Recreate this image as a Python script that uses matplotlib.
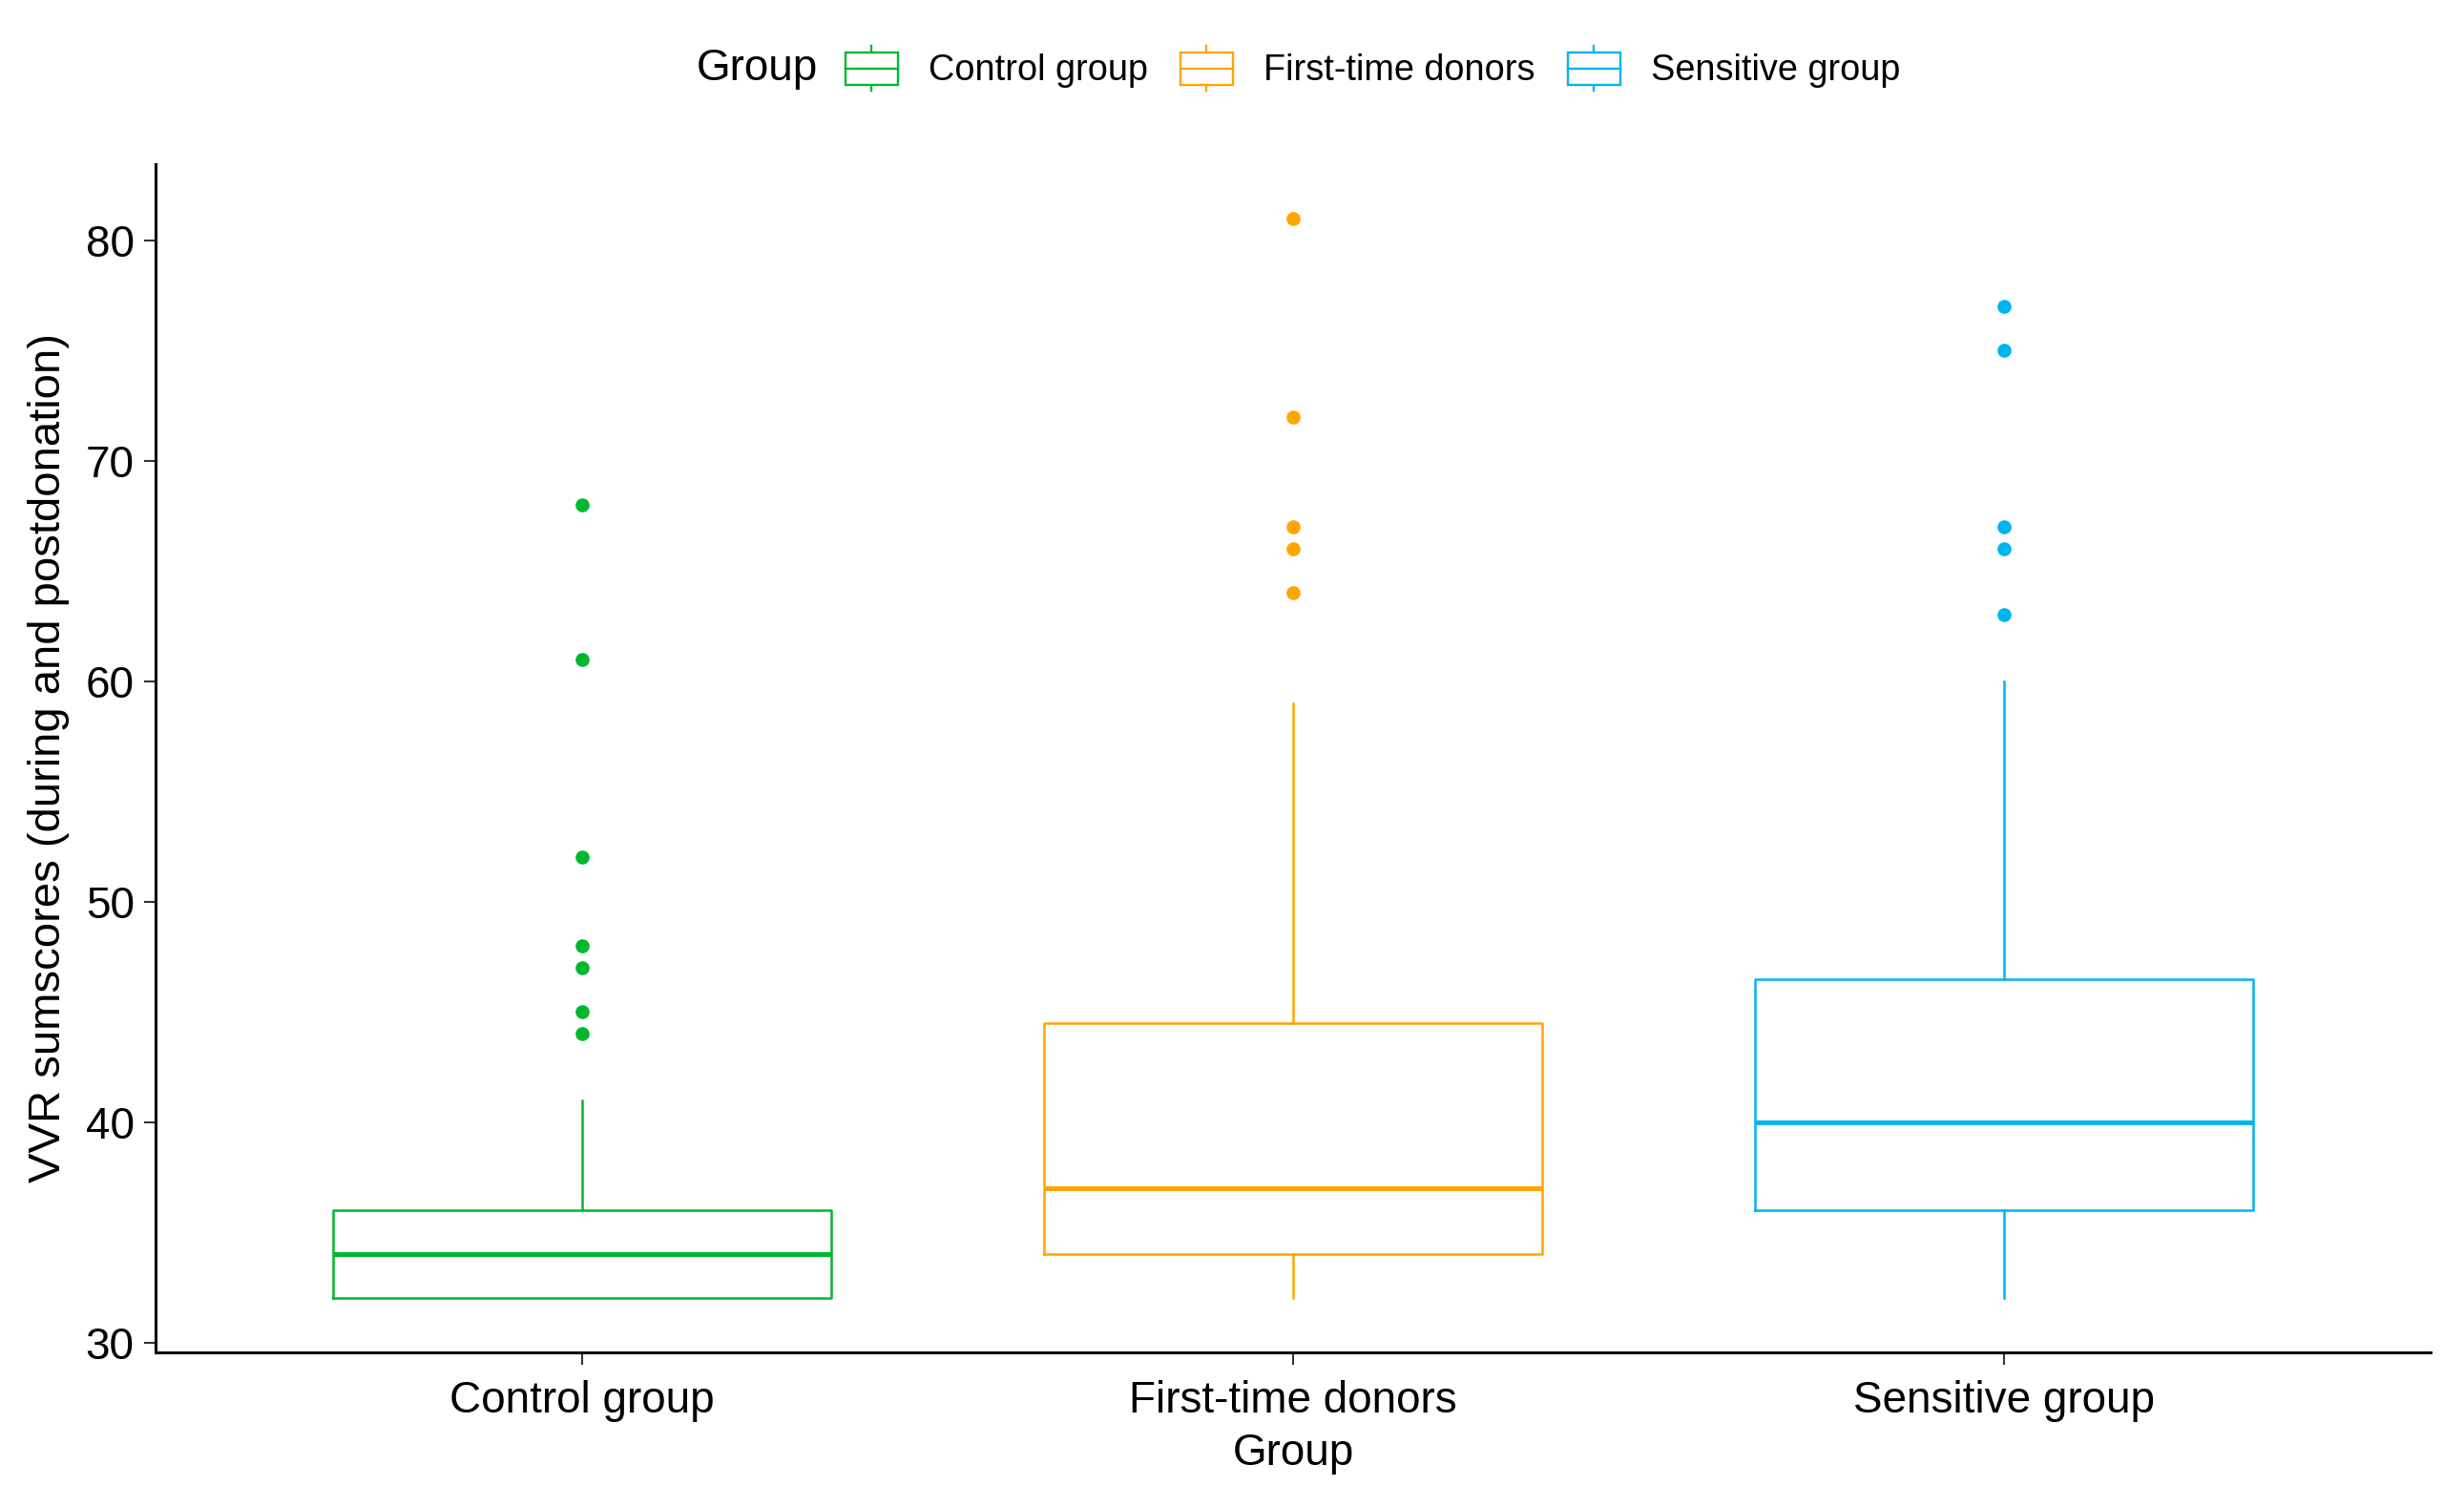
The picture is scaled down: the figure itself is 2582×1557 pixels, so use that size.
import numpy as np
import matplotlib
matplotlib.use("Agg")
from matplotlib import pyplot as plt
from matplotlib.patches import Rectangle
from matplotlib.lines import Line2D
from matplotlib.legend_handler import HandlerBase

plt.rcParams['font.family'] = ['Liberation Sans', 'DejaVu Sans']

GROUPS = ["Control group", "First-time donors", "Sensitive group"]
COLORS = ["#00B82E", "#FFA500", "#00B4EE"]

# box statistics
WHIS_LO = [32, 32, 32]
Q1 = [32, 34, 36]
MEDIAN = [34, 37, 40]
Q3 = [36, 44.5, 46.5]
WHIS_HI = [41, 59, 60]
OUTLIERS = [
    [44, 45, 47, 48, 52, 61, 68],
    [64, 66, 67, 72, 81],
    [63, 66, 67, 75, 77],
]


class BoxHandler(HandlerBase):
    """Legend key drawn like a small boxplot"""

    def create_artists(self, legend, orig_handle, xdescent, ydescent,
                       width, height, fontsize, trans):
        color = orig_handle.get_edgecolor()
        lw = 1.7
        box_lo = -ydescent + height * 0.14
        box_hi = -ydescent + height * 0.86
        mid = -ydescent + height * 0.5
        xm = -xdescent + width / 2
        rect = Rectangle((-xdescent, box_lo), width, box_hi - box_lo,
                         facecolor="white", edgecolor=color, lw=lw, transform=trans)
        med = Line2D([-xdescent, -xdescent + width], [mid, mid], color=color, lw=lw, transform=trans)
        w1 = Line2D([xm, xm], [-ydescent, box_lo], color=color, lw=lw, transform=trans)
        w2 = Line2D([xm, xm], [box_hi, -ydescent + height], color=color, lw=lw, transform=trans)
        return [w1, w2, rect, med]


def main():
    fig = plt.figure(figsize=(25.82, 15.57), dpi=100)
    ax = fig.add_axes([0.0631, 0.0899, 0.9233, 0.7996])

    stats = []
    for i, g in enumerate(GROUPS):
        stats.append(dict(label=g, whislo=WHIS_LO[i], q1=Q1[i], med=MEDIAN[i],
                          q3=Q3[i], whishi=WHIS_HI[i], fliers=OUTLIERS[i]))

    positions = np.arange(1, len(GROUPS) + 1)
    for i, s in enumerate(stats):
        c = COLORS[i]
        ax.bxp([s], positions=[positions[i]], widths=0.7, showcaps=False,
               boxprops=dict(color=c, lw=1.8),
               whiskerprops=dict(color=c, lw=1.8),
               medianprops=dict(color=c, lw=3.6, solid_capstyle="butt"),
               flierprops=dict(marker="o", markerfacecolor=c, markeredgecolor=c,
                               markersize=9.5, linestyle="none"))

    ax.set_xlim(0.4, 3.6)
    ax.set_ylim(29.55, 83.45)
    ax.set_yticks([30, 40, 50, 60, 70, 80])
    ax.set_xticks(positions)
    ax.set_xticklabels(GROUPS)

    for side in ["top", "right"]:
        ax.spines[side].set_visible(False)
    for side in ["left", "bottom"]:
        ax.spines[side].set_linewidth(2.2)
    ax.tick_params(axis="both", length=9, width=1.5, labelsize=33, color="#333333",
                   labelcolor="black")
    ax.tick_params(axis="x", pad=12)
    ax.tick_params(axis="y", pad=7)

    ax.set_xlabel("Group", fontsize=33, labelpad=8)
    ax.set_ylabel("VVR sumscores (during and postdonation)", fontsize=34, labelpad=12)

    handles = [Rectangle((0, 0), 1, 1, edgecolor=c, facecolor="white") for c in COLORS]
    fig.text(0.2827, 0.954, "Group", fontsize=33, va="center", ha="left")
    fig.legend(handles, GROUPS, handler_map={Rectangle: BoxHandler()},
               loc="center left", bbox_to_anchor=(0.343, 0.954), ncol=3,
               frameon=False, fontsize=27.3, borderpad=0, borderaxespad=0,
               handlelength=1.45, handleheight=1.55, handletextpad=0.85,
               columnspacing=0.9)

    fig.savefig("out.png", dpi=100)
    plt.close(fig)


if __name__ == "__main__":
    main()
